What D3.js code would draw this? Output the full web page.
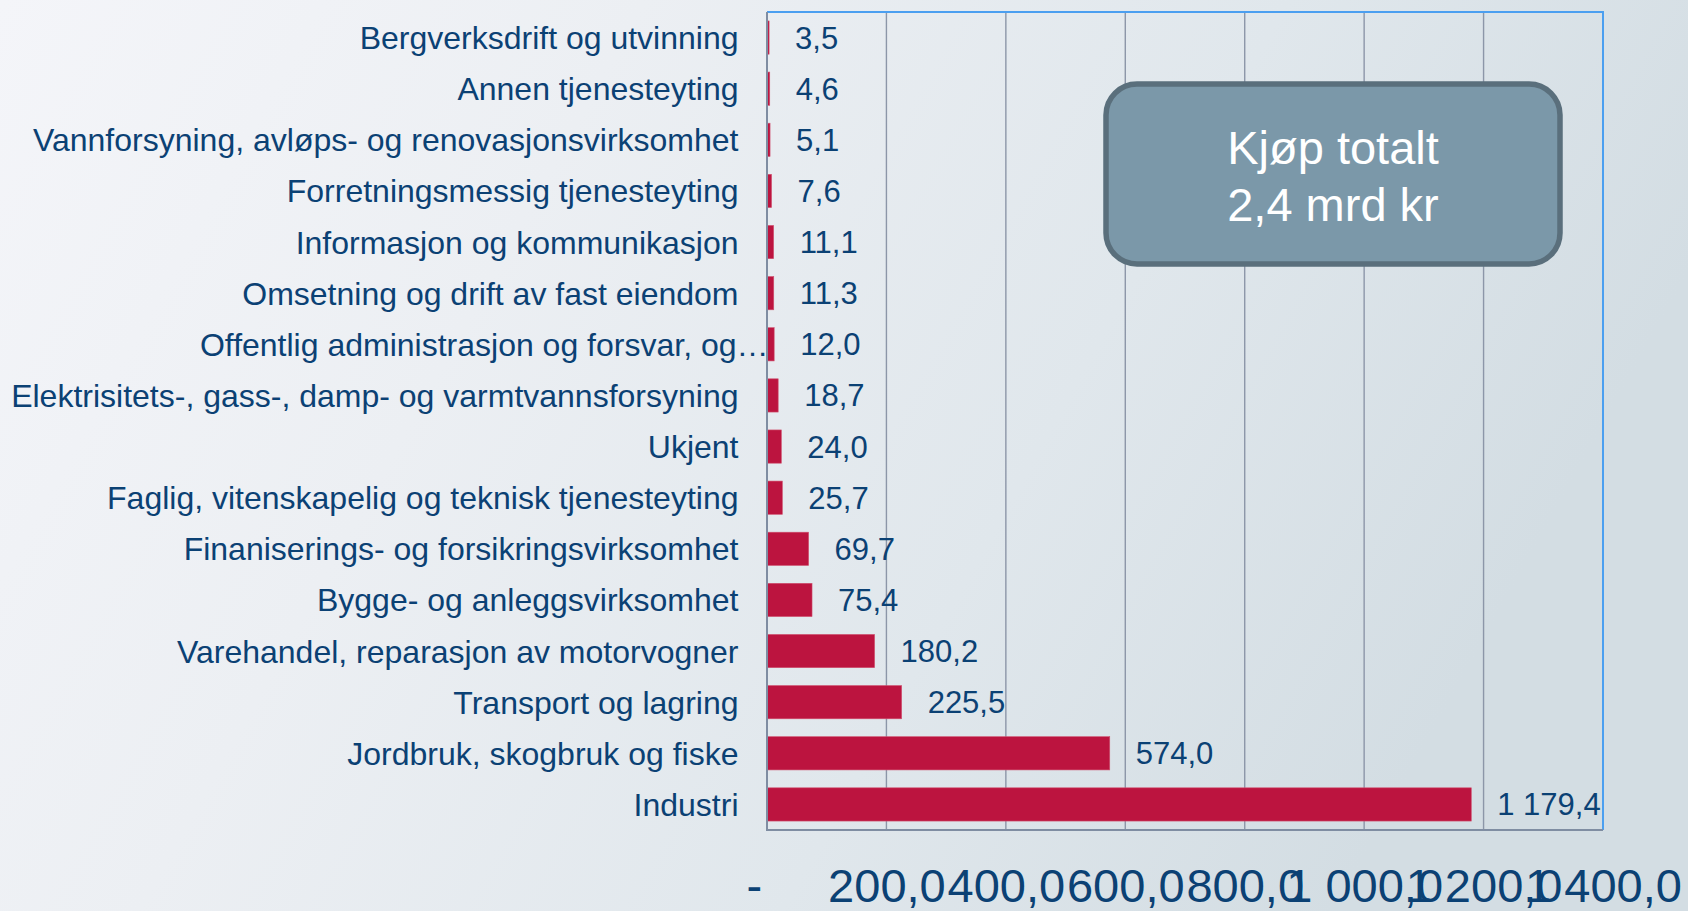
<!DOCTYPE html>
<html>
<head>
<meta charset="utf-8">
<script src="https://cdn.jsdelivr.net/npm/d3@7"></script>
<style>
  html, body { margin: 0; padding: 0; overflow: hidden; }
  svg { display: block; font-family: "Liberation Sans", Arial, sans-serif; }
</style>
</head>
<body>
<svg id="canvas" width="1688" height="911"></svg>
<script>
const categories = [
    'Bergverksdrift og utvinning',
    'Annen tjenesteyting',
    'Vannforsyning, avløps- og renovasjonsvirksomhet',
    'Forretningsmessig tjenesteyting',
    'Informasjon og kommunikasjon',
    'Omsetning og drift av fast eiendom',
    'Offentlig administrasjon og forsvar, og…',
    'Elektrisitets-, gass-, damp- og varmtvannsforsyning',
    'Ukjent',
    'Faglig, vitenskapelig og teknisk tjenesteyting',
    'Finaniserings- og forsikringsvirksomhet',
    'Bygge- og anleggsvirksomhet',
    'Varehandel, reparasjon av motorvogner',
    'Transport og lagring',
    'Jordbruk, skogbruk og fiske',
    'Industri'
];
const values = [3.5, 4.6, 5.1, 7.6, 11.1, 11.3, 12.0, 18.7, 24.0, 25.7, 69.7, 75.4, 180.2, 225.5, 574.0, 1179.4];
const xTicks = [0, 200, 400, 600, 800, 1000, 1200, 1400];
const boxLines = ['Kjøp totalt', '2,4 mrd kr'];

const textColor = '#0b4174';
const barColor = '#bc143f';

const margin = {left: 767, right: 85, top: 12, bottom: 81};
const width = 1688, height = 911;

let canvas = d3.select('#canvas');

// number format: 1 179,4
const no = d3.formatLocale({decimal: ',', thousands: '\u00a0', grouping: [3], currency: ['', '']});
const fmt = no.format(',.1f');

// background
let defs = canvas.append('defs');
let bg = defs.append('linearGradient').attr('id', 'bg')
    .attr('x1', '0%').attr('y1', '0%').attr('x2', '100%').attr('y2', '30%');
bg.append('stop').attr('offset', '0%').attr('stop-color', '#f4f5f9');
bg.append('stop').attr('offset', '35%').attr('stop-color', '#eceff3');
bg.append('stop').attr('offset', '70%').attr('stop-color', '#e0e7ec');
bg.append('stop').attr('offset', '100%').attr('stop-color', '#d3dde3');
canvas.append('rect').attr('width', width).attr('height', height).attr('fill', 'url(#bg)');

const x = d3.scaleLinear()
    .domain([0, 1400])
    .range([margin.left, width - margin.right]);

const y = d3.scaleBand()
    .domain(categories)
    .range([margin.top, height - margin.bottom])
    .paddingInner(0.35)
    .paddingOuter(0.175);

// gridlines
canvas.append('g')
    .selectAll('line')
    .data(xTicks.slice(1, -1))
    .enter()
    .append('line')
    .attr('x1', d => x(d)).attr('x2', d => x(d))
    .attr('y1', margin.top).attr('y2', height - margin.bottom)
    .attr('stroke', '#8c96a8')
    .attr('stroke-width', 1.4);

// plot border: blue top/right
canvas.append('path')
    .attr('d', `M${x(0)},${margin.top}H${x(1400)}V${height - margin.bottom}`)
    .attr('fill', 'none')
    .attr('stroke', '#4b9ff0')
    .attr('stroke-width', 2);

// bars
canvas.append('g')
    .selectAll('rect')
    .data(values)
    .enter()
    .append('rect')
    .attr('x', x(0))
    .attr('y', (d, i) => y(categories[i]))
    .attr('width', d => x(d) - x(0))
    .attr('height', y.bandwidth())
    .attr('fill', barColor)
    .attr('stroke', '#d0506e')
    .attr('stroke-width', 0.6);

// value labels
canvas.append('g')
    .selectAll('text')
    .data(values)
    .enter()
    .append('text')
    .attr('x', d => x(d) + 26)
    .attr('y', (d, i) => y(categories[i]) + y.bandwidth() / 2 + 11)
    .attr('fill', textColor)
    .style('font-size', '31px')
    .text(d => fmt(d));

// left axis line + bottom line
canvas.append('path')
    .attr('d', `M${x(0)},${margin.top}V${height - margin.bottom}H${x(1400)}`)
    .attr('fill', 'none')
    .attr('stroke', '#7f8da2')
    .attr('stroke-width', 2);

// category labels
canvas.append('g')
    .selectAll('text')
    .data(categories)
    .enter()
    .append('text')
    .attr('x', d => x(0) - 28.5 + (d.endsWith('…') ? 30 : 0))
    .attr('y', d => y(d) + y.bandwidth() / 2 + 11.5)
    .attr('text-anchor', 'end')
    .attr('fill', textColor)
    .style('font-size', '32px')
    .text(d => d);

// x axis labels
let xAxis = d3.axisBottom(x)
    .tickValues(xTicks)
    .tickSize(0)
    .tickPadding(0)
    .tickFormat(d => d === 0 ? '-\u00a0\u00a0' : fmt(d));

let axisG = canvas.append('g')
    .attr('transform', `translate(0, ${height - margin.bottom})`)
    .call(xAxis);
axisG.select('.domain').remove();
axisG.selectAll('text')
    .attr('y', 72)
    .attr('dy', 0)
    .attr('fill', textColor)
    .style('font-size', '47px')
    .style('font-family', '"Liberation Sans", Arial, sans-serif');

// info box
let box = canvas.append('g');
box.append('rect')
    .attr('x', 1106).attr('y', 84)
    .attr('width', 454).attr('height', 180)
    .attr('rx', 31).attr('ry', 31)
    .attr('fill', '#7b98a9')
    .attr('stroke', '#5a6f7c')
    .attr('stroke-width', 5.5);
box.selectAll('text')
    .data(boxLines)
    .enter()
    .append('text')
    .attr('x', 1333)
    .attr('y', (d, i) => 164 + i * 56.5)
    .attr('text-anchor', 'middle')
    .attr('fill', '#ffffff')
    .style('font-size', '47px')
    .text(d => d);
</script>
</body>
</html>
